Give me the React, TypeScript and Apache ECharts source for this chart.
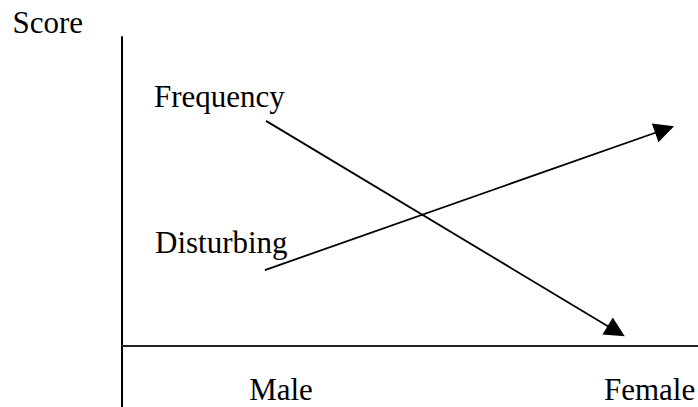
import React, { useEffect, useRef } from "react";
import * as echarts from "echarts";

// Data (x: 0..100 horizontal scale, y: -10..50 score scale)
const categories = ["Male", "Female"];
const categoryPositions = [27.6, 91.6];
const seriesNames = ["Frequency", "Disturbing"];
const frequencyPoints = [
  [25.0, 36.4],
  [85.8, 2.3],
];
const disturbingPoints = [
  [24.8, 12.2],
  [94.2, 35.0],
];
const yAxisName = "Score";

const FONT = '"Liberation Serif", "Times New Roman", serif';

export default function App() {
  const ref = useRef<HTMLDivElement>(null);

  useEffect(() => {
    document.body.style.margin = "0";
    const chart = echarts.init(ref.current!, null, { renderer: "svg" });
    const lineStyle = { color: "#000", width: 1.8, opacity: 1 };
    chart.setOption({
      animation: false,
      backgroundColor: "#fff",
      grid: {
        left: 122,
        right: 0,
        top: 37,
        bottom: 0,
        containLabel: false,
        outerBoundsMode: "none",
      },
      xAxis: {
        type: "value",
        min: 0,
        max: 100,
        position: "bottom",
        offset: -61.67,
        splitLine: { show: false },
        axisTick: { show: false },
        axisLine: { onZero: false, lineStyle: { color: "#222", width: 2 } },
        axisLabel: {
          show: true,
          customValues: categoryPositions,
          margin: 29,
          color: "#000",
          fontFamily: FONT,
          fontSize: 31,
          formatter: (v: number) => {
            let best = -1;
            let bd = Infinity;
            categoryPositions.forEach((p, i) => {
              const d = Math.abs(p - v);
              if (d < bd) {
                bd = d;
                best = i;
              }
            });
            return bd < 0.5 ? categories[best] : "";
          },
        },
      },
      yAxis: {
        type: "value",
        min: -10,
        max: 50,
        name: yAxisName,
        nameLocation: "end",
        nameGap: 14.5,
        nameTextStyle: {
          color: "#000",
          fontFamily: FONT,
          fontSize: 31,
          align: "right",
          verticalAlign: "middle",
          padding: [0, 39, 0, 0],
        },
        splitLine: { show: false },
        axisTick: { show: false },
        axisLabel: { show: false },
        axisLine: { onZero: true, lineStyle: { color: "#000", width: 2 } },
      },
      series: [
        {
          name: seriesNames[0],
          type: "lines",
          coordinateSystem: "cartesian2d",
          symbol: ["none", "triangle"],
          symbolSize: [19, 20],
          lineStyle,
          itemStyle: { color: "#000" },
          data: [{ coords: frequencyPoints }],
        },
        {
          name: seriesNames[1],
          type: "lines",
          coordinateSystem: "cartesian2d",
          symbol: ["none", "triangle"],
          symbolSize: [19, 20],
          lineStyle,
          itemStyle: { color: "#000" },
          data: [{ coords: disturbingPoints }],
        },
      ],
      graphic: [
        {
          type: "text",
          x: 154,
          y: 96.5,
          style: {
            text: seriesNames[0],
            fill: "#000",
            fontFamily: FONT,
            fontSize: 31,
            align: "left",
            verticalAlign: "middle",
          },
        },
        {
          type: "text",
          x: 155,
          y: 242.8,
          style: {
            text: seriesNames[1],
            fill: "#000",
            fontFamily: FONT,
            fontSize: 31,
            align: "left",
            verticalAlign: "middle",
          },
        },
      ],
    });
    return () => chart.dispose();
  }, []);

  return <div ref={ref} style={{ width: 698, height: 407 }} />;
}
